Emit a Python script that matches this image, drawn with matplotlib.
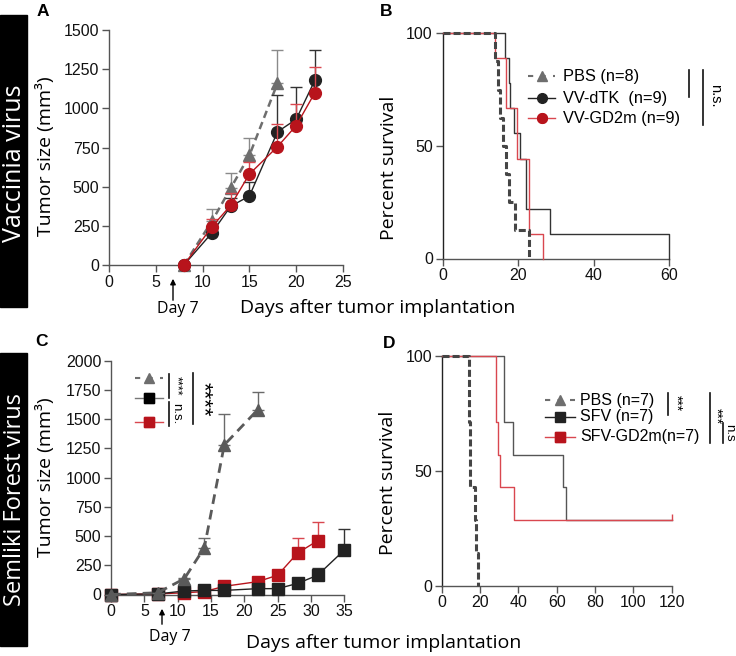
import matplotlib
matplotlib.use('Agg')
import matplotlib.pyplot as plt
from matplotlib.lines import Line2D
from matplotlib.patches import Rectangle, FancyArrowPatch
import numpy as np

# ---------------- DATA ----------------
# Panel A: tumour size (mm3), vaccinia virus
A_pbs_x = [8, 11, 13, 15, 18]
A_pbs_y = [0, 280, 490, 700, 1160]
A_pbs_err = [0, 75, 95, 110, 215]
A_dtk_x = [8, 11, 13, 15, 18, 20, 22]
A_dtk_y = [0, 205, 375, 440, 850, 930, 1180]
A_dtk_err = [0, 30, 50, 90, 235, 205, 195]
A_gd2_x = [8, 11, 13, 15, 18, 20, 22]
A_gd2_y = [0, 245, 380, 580, 755, 890, 1100]
A_gd2_err = [0, 50, 80, 80, 145, 140, 165]

# Panel B: survival (%), vaccinia virus
B_pbs_t = [0, 14.0, 14.7, 15.2, 16.0, 16.8, 17.6, 19.1, 22.8]
B_pbs_s = [100, 87.5, 75, 62.5, 50, 37.5, 25, 12.5, 0]
B_dtk_t = [0, 16.6, 17.6, 18.0, 19.0, 20.6, 22.1, 28.4, 60]
B_dtk_s = [100, 88.9, 77.8, 66.7, 55.6, 44.4, 22.2, 11.1, 0]
B_gd2_t = [0, 14.0, 16.7, 19.7, 22.8, 26.5]
B_gd2_s = [100, 88.9, 66.7, 44.4, 11.1, 0]

# Panel C: tumour size (mm3), Semliki Forest virus
C_pbs_x = [0, 7, 11, 14, 17, 22]
C_pbs_y = [0, 15, 135, 400, 1280, 1580]
C_pbs_err = [0, 0, 10, 85, 260, 150]
C_sfv_x = [0, 7, 11, 14, 17, 22, 25, 28, 31, 35]
C_sfv_y = [0, 5, 30, 35, 35, 50, 50, 95, 165, 380]
C_sfv_err = [0, 0, 5, 5, 5, 5, 5, 10, 65, 180]
C_gd2_x = [0, 7, 11, 14, 17, 22, 25, 28, 31]
C_gd2_y = [0, 5, 15, 25, 70, 110, 165, 355, 460]
C_gd2_err = [0, 0, 5, 5, 10, 15, 45, 125, 160]

# Panel D: survival (%), Semliki Forest virus
D_pbs_t = [0, 14.0, 14.3, 14.6, 15.0, 17.4, 18.0, 18.8]
D_pbs_s = [100, 85.7, 71.4, 57.1, 42.9, 28.6, 14.3, 0]
D_sfv_t = [0, 32.5, 37.2, 63.1, 64.9, 120]
D_sfv_s = [100, 71.4, 57.1, 42.9, 28.6, 28.6]
D_gd2_t = [0, 28.3, 29.6, 30.4, 37.7, 120]
D_gd2_s = [100, 71.4, 57.1, 42.9, 28.6, 28.6]

B_labels = ["PBS (n=8)", "VV-dTK  (n=9)", "VV-GD2m (n=9)"]
D_labels = ["PBS (n=7)", "SFV (n=7)", "SFV-GD2m(n=7)"]

# ---------------- STYLE ----------------
plt.rcParams['font.family'] = ['Liberation Sans', 'DejaVu Sans']
LAB = ['Open Sans', 'DejaVu Sans']
GRAY = '#6e6e6e'
DGRAY = '#454545'
BLACK = '#222222'
RED = '#b8141c'
LRED = '#d9474f'
SP = '#555555'

W, H = 736, 656
fig = plt.figure(figsize=(W / 100, H / 100), dpi=100)


def fx(x):
    return x / W


def fy(y):
    return 1 - y / H


def rect(l, r, t, b):
    return [l / W, 1 - b / H, (r - l) / W, (b - t) / H]


def style(ax, xlim, ylim, xt, yt):
    ax.set_xlim(*xlim)
    ax.set_ylim(*ylim)
    ax.set_xticks(xt)
    ax.set_yticks(yt)
    for s in ['top', 'right']:
        ax.spines[s].set_visible(False)
    for s in ['left', 'bottom']:
        ax.spines[s].set_color(SP)
        ax.spines[s].set_linewidth(1.0)
    ax.tick_params(direction='out', length=5, width=1, color=SP,
                   labelsize=11.5, pad=2, labelcolor='#111111')
    ax.patch.set_alpha(0)


def vline(x, y0, y1, lw=1.2, color='#111111'):
    fig.add_artist(Line2D([fx(x), fx(x)], [fy(y0), fy(y1)], lw=lw, color=color))


def ftext(x, y, s, **kw):
    return fig.text(fx(x), fy(y), s, **kw)


def leg_entry(x0, x1, y, color, ls, lw, marker, ms):
    fig.add_artist(Line2D([fx(x0), fx(x1)], [fy(y), fy(y)], color=color, ls=ls, lw=lw))
    fig.add_artist(Line2D([fx((x0 + x1) / 2)], [fy(y)], marker=marker, ms=ms,
                          color=color, mec=color, mfc=color, ls='none'))


def tumor(ax, x, y, err, color, ecolor, ls, lw, marker, ms, z):
    ax.errorbar(x, y, yerr=[np.zeros(len(err)), err], fmt='none', ecolor=ecolor,
                elinewidth=1, capsize=4, capthick=1, zorder=z, clip_on=False)
    ax.plot(x, y, color=color, ls=ls, lw=lw, marker=marker, ms=ms, mfc=color,
            mec=color, zorder=z + 0.5, clip_on=False)


# black side bars with virus names
fig.add_artist(Rectangle((0, fy(307)), fx(27), (307 - 15) / H, color='black'))
fig.add_artist(Rectangle((0, fy(646)), fx(27), (646 - 353) / H, color='black'))
ftext(15, 163, "Vaccinia virus", rotation=90, color='white', ha='center', va='center',
      fontsize=18, family=LAB)
ftext(15, 499, "Semliki Forest virus", rotation=90, color='white', ha='center', va='center',
      fontsize=17, family=LAB)

# panel letters
for lt, x, y in [("A", 43, 12), ("B", 386, 11), ("C", 42, 341), ("D", 389, 344)]:
    ftext(x, y, lt, fontsize=12.5, fontweight='bold', ha='center', va='center')

# ---------------- Panel A ----------------
axA = fig.add_axes(rect(109, 343, 30, 265))
style(axA, (0, 25), (0, 1500), range(0, 26, 5), range(0, 1501, 250))
tumor(axA, A_pbs_x, A_pbs_y, A_pbs_err, GRAY, '#8a8a8a', (0, (3, 1.8)), 1.8, '^', 8, 3)
tumor(axA, A_dtk_x, A_dtk_y, A_dtk_err, BLACK, '#333333', '-', 1.0, 'o', 8.5, 4)
tumor(axA, A_gd2_x, A_gd2_y, A_gd2_err, RED, LRED, '-', 1.0, 'o', 8.5, 5)
axA.set_ylabel("Tumor size (mm³)", family=LAB, fontsize=14)
axA.yaxis.set_label_coords(-0.231, 0.464)

# ---------------- Panel B ----------------
axB = fig.add_axes(rect(442.5, 669, 33.3, 258.5))
style(axB, (0, 60), (0, 100), [0, 20, 40, 60], [0, 50, 100])
axB.spines['left'].set_color('#222222')
axB.plot(B_dtk_t, B_dtk_s, drawstyle='steps-post', color='#333333', lw=1.0, clip_on=False, zorder=3)
axB.plot(B_gd2_t, B_gd2_s, drawstyle='steps-post', color=LRED, lw=1.0, clip_on=False, zorder=4)
axB.plot(B_pbs_t, B_pbs_s, drawstyle='steps-post', color=DGRAY, lw=2.2, ls=(0, (2.3, 1.0)),
         clip_on=False, zorder=5)
axB.set_ylabel("Percent survival", family=LAB, fontsize=14)
axB.yaxis.set_label_coords(-0.196, 0.402)

ys = [76, 98, 118]
leg_entry(528, 555, ys[0], GRAY, (0, (2.5, 3.5)), 1.5, '^', 7)
leg_entry(528, 555, ys[1], BLACK, '-', 1.0, 'o', 7)
leg_entry(528, 555, ys[2], LRED, '-', 1.0, 'o', 7)
fig.add_artist(Line2D([fx(541.5)], [fy(ys[2])], marker='o', ms=7, color=RED, ls='none'))
for lab, y in zip(B_labels, ys):
    ftext(563, y, lab, fontsize=11.8, va='center', ha='left')
vline(689, 70, 97)
vline(703, 70, 125)
ftext(715, 96, "n.s.", rotation=-90, fontsize=10.5, ha='center', va='center')

# ---------------- Panel C ----------------
axC = fig.add_axes(rect(111, 344.3, 360.7, 594.5))
style(axC, (0, 35), (0, 2000), range(0, 36, 5), range(0, 2001, 250))
tumor(axC, C_pbs_x, C_pbs_y, C_pbs_err, '#5a5a5a', '#6a6a6a', (0, (3.5, 2.2)), 2.0, '^', 8, 5)
tumor(axC, C_sfv_x, C_sfv_y, C_sfv_err, BLACK, '#333333', '-', 1.0, 's', 8, 4)
tumor(axC, C_gd2_x, C_gd2_y, C_gd2_err, RED, LRED, '-', 1.0, 's', 8, 3)
axC.set_ylabel("Tumor size (mm³)", family=LAB, fontsize=14)
axC.yaxis.set_label_coords(-0.24, 0.5)

leg_entry(135, 162.7, 377.7, GRAY, (0, (2.5, 3.5)), 1.5, '^', 7)
leg_entry(135, 162.7, 397.7, '#777777', '-', 1.0, 's', 7)
fig.add_artist(Line2D([fx(148.8)], [fy(397.7)], marker='s', ms=7, color='black', ls='none'))
leg_entry(135, 162.7, 421.7, LRED, '-', 1.0, 's', 7)
fig.add_artist(Line2D([fx(148.8)], [fy(421.7)], marker='s', ms=7, color=RED, ls='none'))
vline(169.3, 374, 398)
ftext(176, 386, "****", rotation=-90, fontsize=9, ha='center', va='center')
vline(169.3, 402, 426)
ftext(176, 414, "n.s.", rotation=-90, fontsize=9.5, ha='center', va='center')
vline(192.7, 373, 424)
ftext(203, 399, "****", rotation=-90, fontsize=16, ha='center', va='center')

# ---------------- Panel D ----------------
axD = fig.add_axes(rect(441.7, 671.7, 356, 585.7))
style(axD, (0, 120), (0, 100), range(0, 121, 20), [0, 50, 100])
axD.spines['left'].set_color('#222222')
axD.plot(D_sfv_t, D_sfv_s, drawstyle='steps-post', color='#555555', lw=1.0, clip_on=False, zorder=3)
axD.plot(D_gd2_t, D_gd2_s, drawstyle='steps-post', color=LRED, lw=1.0, clip_on=False, zorder=4)
axD.plot([D_gd2_t[-1]], [D_gd2_s[-1] + 1.5], marker='|', ms=5, color=LRED, clip_on=False, zorder=4)
axD.plot(D_pbs_t, D_pbs_s, drawstyle='steps-post', color=DGRAY, lw=2.2, ls=(0, (2.3, 1.0)),
         clip_on=False, zorder=5)
axD.set_ylabel("Percent survival", family=LAB, fontsize=14)
axD.yaxis.set_label_coords(-0.194, 0.447)

ys = [400, 417, 437]
leg_entry(545, 575, ys[0], GRAY, (0, (2.5, 3.5)), 1.5, '^', 7)
leg_entry(545, 575, ys[1], BLACK, '-', 1.0, 's', 7)
leg_entry(545, 575, ys[2], LRED, '-', 1.0, 's', 7)
fig.add_artist(Line2D([fx(560)], [fy(ys[2])], marker='s', ms=7, color=RED, ls='none'))
for lab, y in zip(D_labels, ys):
    ftext(580, y, lab, fontsize=11.5, va='center', ha='left')
vline(668.3, 393, 415)
ftext(675.7, 403, "***", rotation=-90, fontsize=10, ha='center', va='center')
vline(710, 393, 443)
ftext(715.7, 416, "***", rotation=-90, fontsize=10, ha='center', va='center')
vline(722.7, 423, 443)
ftext(729, 433, "n.s", rotation=-90, fontsize=9.5, ha='center', va='center')

# ---------------- shared x labels & Day 7 arrows ----------------
ftext(378, 308, "Days after tumor implantation", family=LAB, fontsize=14, ha='center', va='center')
ftext(383.5, 643, "Days after tumor implantation", family=LAB, fontsize=14, ha='center', va='center')

for x, y0, y1, tx, ty in [(173, 303, 276, 178, 309), (162, 627, 606, 170, 637)]:
    fig.add_artist(FancyArrowPatch(
        (fx(x), fy(y0)), (fx(x), fy(y1)), transform=fig.transFigure,
        arrowstyle='-|>', mutation_scale=8, lw=1.0, color='black'))
    ftext(tx, ty, "Day 7", family=LAB, fontsize=11.5, ha='center', va='center')

fig.savefig('out.png', dpi=100)
